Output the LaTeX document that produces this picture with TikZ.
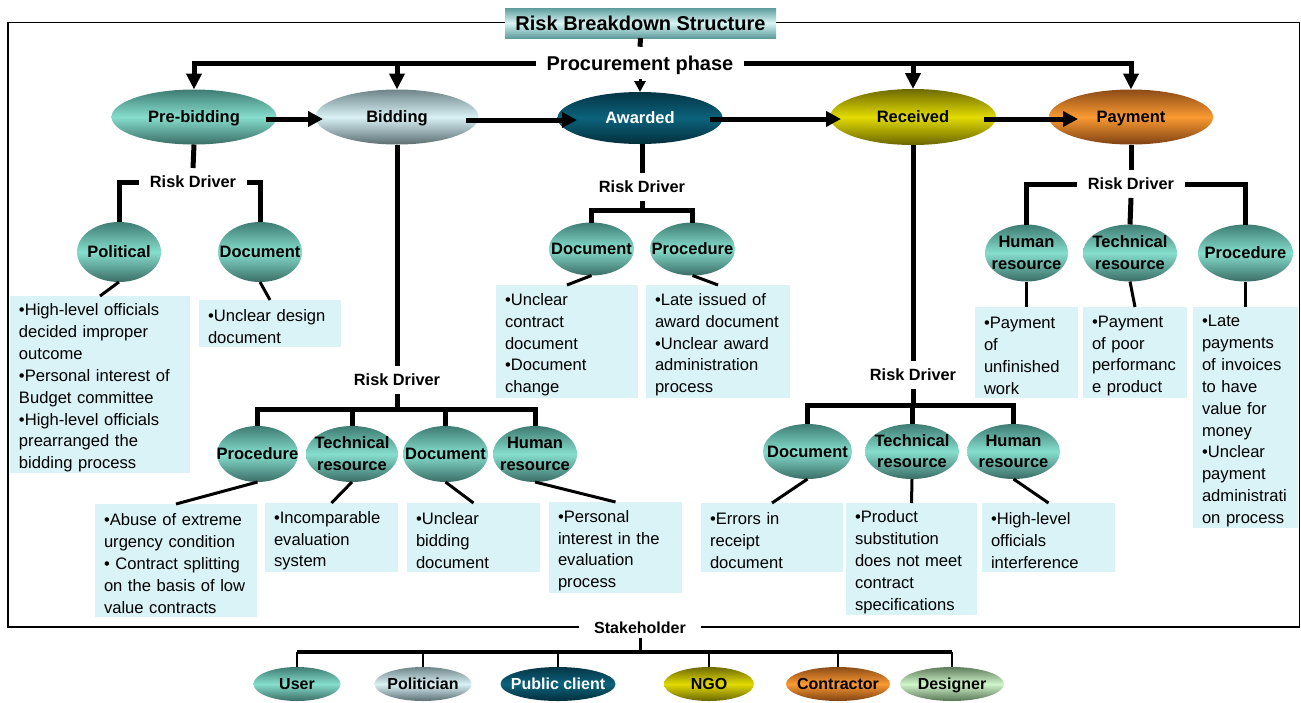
\documentclass[tikz,border=0pt]{standalone}
\usepackage{fontspec}
\setmainfont{Liberation Sans}
\usetikzlibrary{arrows.meta,shapes.geometric}
\definecolor{tealD}{HTML}{3E7C73}
\definecolor{tealL}{HTML}{86DECD}
\definecolor{tealB}{HTML}{3A6D66}
\definecolor{bidD}{HTML}{6E8488}
\definecolor{bidL}{HTML}{D9F1F5}
\definecolor{bidB}{HTML}{5B6E72}
\definecolor{awdD}{HTML}{053545}
\definecolor{awdL}{HTML}{0B627C}
\definecolor{awdB}{HTML}{042F3C}
\definecolor{recD}{HTML}{6E6A00}
\definecolor{recL}{HTML}{E2DB00}
\definecolor{recB}{HTML}{6A6500}
\definecolor{payD}{HTML}{8C4B17}
\definecolor{payL}{HTML}{FA9A32}
\definecolor{payB}{HTML}{7E4113}
\definecolor{desD}{HTML}{5F7D5B}
\definecolor{desL}{HTML}{CFF5CA}
\definecolor{desB}{HTML}{587555}
\definecolor{titD}{HTML}{5E9C9C}
\definecolor{titL}{HTML}{D8F5F5}
\definecolor{noteC}{HTML}{DAF3F7}
\newcommand\lbl[1]{\makebox[0pt]{\raisebox{-5.7pt}[0pt][0pt]{\begin{tabular}{@{}c@{}}#1\end{tabular}}}}
\newcommand\nohyph{\hyphenpenalty=10000\relax\exhyphenpenalty=10000\relax\rule{0pt}{18.5pt}}
\begin{document}
\begin{tikzpicture}[x=1pt,y=-1pt,
  every node/.style={inner sep=0pt,outer sep=0pt},
  frm/.style={line width=1.6pt},
  ttl/.style={rectangle,minimum width=271pt,minimum height=30pt,top color=titD,bottom color=titD,middle color=titL,font=\bfseries\fontsize{20}{24}\selectfont},
  phs/.style={font=\bfseries\fontsize{20}{24}\selectfont,inner xsep=11pt,inner ysep=9pt,text depth=0pt},
  oval/.style={ellipse,inner sep=0pt,font=\bfseries\fontsize{16.5}{21.5}\selectfont},
  soval/.style={ellipse,inner sep=0pt,font=\bfseries\fontsize{16}{20}\selectfont},
  sz/.style 2 args={minimum width=#1pt,minimum height=#2pt},
  cteal/.style={top color=tealD,bottom color=tealB,middle color=tealL},
  cbid/.style={top color=bidD,bottom color=bidB,middle color=bidL},
  cawd/.style={top color=awdD,bottom color=awdB,middle color=awdL,text=white},
  crec/.style={top color=recD,bottom color=recB,middle color=recL},
  cpay/.style={top color=payD,bottom color=payB,middle color=payL},
  cdes/.style={top color=desD,bottom color=desB,middle color=desL},
  rdr/.style={font=\bfseries\fontsize{16.3}{20}\selectfont,inner xsep=11pt,inner ysep=8pt},
  shl/.style={font=\bfseries\fontsize{16}{20}\selectfont,fill=white,inner xsep=15pt,inner ysep=4pt},
  note/.style={rectangle,fill=noteC,anchor=north west,align=left,inner xsep=9pt,inner ysep=1pt,
    font=\fontsize{16.6}{21.9}\selectfont},
  nsz/.style 2 args={minimum width=#1pt,minimum height=#2pt},
  trunk/.style={line width=5pt},
  arr/.style={line width=5pt,-{Triangle[width=15pt,length=15pt]}},
  arrd/.style={line width=5pt,-{Triangle[width=15pt,length=16pt]}},
  twig/.style={line width=3pt},
  sbar/.style={line width=3.5pt},
  sdrop/.style={line width=1.5pt}
]
\useasboundingbox (0,0) rectangle (1301,702);
\draw[frm] (8,22.5) rectangle (1299.5,627);

% title and phase
\node[ttl] (title) at (640.5,23) {Risk Breakdown Structure};
\node[phs] (proc) at (640,63) {Procurement phase};

% phases
\node[oval,sz={165}{55},cteal] (pb) at (194,117) {\lbl{Pre-bidding}};
\node[oval,sz={163}{55},cbid] (bd) at (397,117) {\lbl{Bidding}};
\node[oval,sz={165}{52},cawd] (aw) at (640,118) {\lbl{Awarded}};
\node[oval,sz={166}{56},crec] (rc) at (913,117) {\lbl{Received}};
\node[oval,sz={164}{55},cpay] (pay) at (1131,117) {\lbl{Payment}};

% risk driver labels
\node[rdr] (rd1) at (193,182) {Risk Driver};
\node[rdr] (rd2) at (397,380) {Risk Driver};
\node[rdr] (rd3) at (642,187) {Risk Driver};
\node[rdr] (rd4) at (913,375) {Risk Driver};
\node[rdr] (rd5) at (1131,184) {Risk Driver};
\coordinate (b2) at (397,409);
\coordinate (b3) at (642,210);
\coordinate (b4) at (913,405);

% pre-bidding children
\node[oval,sz={84}{60},cteal] (pol) at (119,252) {\lbl{Political}};
\node[oval,sz={84}{60},cteal] (pdoc) at (260,252) {\lbl{Document}};
% bidding children
\node[oval,sz={81}{56},cteal] (bproc) at (257.5,454) {\lbl{Procedure}};
\node[oval,sz={92}{56},cteal] (btech) at (352,454) {\lbl{Technical\\resource}};
\node[oval,sz={85}{56},cteal] (bdoc) at (445.5,454) {\lbl{Document}};
\node[oval,sz={84}{56},cteal] (bhum) at (535,454) {\lbl{Human\\resource}};
% awarded children
\node[oval,sz={85}{53},cteal] (adoc) at (591.5,249) {\lbl{Document}};
\node[oval,sz={85}{53},cteal] (aproc) at (692.5,249) {\lbl{Procedure}};
% received children
\node[oval,sz={89}{55},cteal] (rdoc) at (807.5,451.5) {\lbl{Document}};
\node[oval,sz={94}{55},cteal] (rtech) at (912,451.5) {\lbl{Technical\\resource}};
\node[oval,sz={93}{55},cteal] (rhum) at (1013.5,451.5) {\lbl{Human\\resource}};
% payment children
\node[oval,sz={83}{57},cteal] (ph) at (1026.5,253) {\lbl{Human\\resource}};
\node[oval,sz={94}{57},cteal] (pt) at (1130,253) {\lbl{Technical\\resource}};
\node[oval,sz={95}{57},cteal] (pp) at (1245.5,253) {\lbl{Procedure}};

% notes
\node[note,nsz={180}{177},text width=162pt] (n1) at (10,296) {\nohyph •High-level officials\\decided improper\\outcome\\•Personal interest of\\Budget committee\\•High-level officials\\prearranged the\\bidding process};
\node[note,nsz={142}{47},text width=124pt] (n2) at (199,300) {\nohyph •Unclear design\\document};
\node[note,nsz={142}{113},text width=124pt] (n3) at (496,285) {\nohyph •Unclear\\contract\\document\\•Document\\change};
\node[note,nsz={144}{113},text width=126pt] (n4) at (646,285) {\nohyph •Late issued of\\award document\\•Unclear award\\administration\\process};
\node[note,nsz={162}{113},text width=144pt] (n5) at (95,504) {\nohyph •Abuse of extreme\\urgency condition\\• Contract splitting\\on the basis of low\\value contracts};
\node[note,nsz={133}{69},text width=115pt] (n6) at (265,503) {\nohyph •Incomparable\\evaluation\\system};
\node[note,nsz={133}{69},text width=115pt] (n7) at (407,503) {\nohyph •Unclear\\bidding\\document};
\node[note,nsz={133}{91},text width=115pt] (n8) at (549,502) {\nohyph •Personal\\interest in the\\evaluation\\process};
\node[note,nsz={142}{69},text width=124pt] (n9) at (701,503) {\nohyph •Errors in\\receipt\\document};
\node[note,nsz={131}{111},text width=113pt] (n10) at (846,503) {\nohyph •Product\\substitution\\does not meet\\contract\\specifications};
\node[note,nsz={133}{69},text width=115pt] (n11) at (982,503) {\nohyph •High-level\\officials\\interference};
\node[note,nsz={103}{91},text width=85pt] (n12) at (975,307) {\nohyph •Payment\\of\\unfinished\\work};
\node[note,nsz={104}{91},text width=86pt] (n13) at (1083,307) {\nohyph •Payment\\of poor\\performanc\\e product};
\node[note,nsz={105}{221},text width=87pt] (n14) at (1193,307) {\nohyph •Late\\payments\\of invoices\\to have\\value for\\money\\•Unclear\\payment\\administrati\\on process};

% stakeholders
\node[shl] (sh) at (640,628) {Stakeholder};
\coordinate (b6) at (640,652);
\node[soval,sz={87}{34},cteal] (su) at (297,684) {\lbl{User}};
\node[soval,sz={97}{34},cbid] (spol) at (423,684) {\lbl{Politician}};
\node[soval,sz={115}{34},cawd] (spc) at (558,684) {\lbl{Public client}};
\node[soval,sz={90}{34},crec] (sngo) at (709,684) {\lbl{NGO}};
\node[soval,sz={104}{34},cpay] (scon) at (838,684) {\lbl{Contractor}};
\node[soval,sz={104}{34},cdes] (sdes) at (952,684) {\lbl{Designer}};

% top connectors
\draw[trunk] (title.south) -- (proc.north);
\draw[arrd] (proc.west) -| (pb.north);
\draw[arrd] (proc.west) -| (bd.north);
\draw[arrd] (proc.east) -| (rc.north);
\draw[arrd] (proc.east) -| (pay.north);
\draw[line width=3pt,-{Triangle[width=11pt,length=11pt]}] (proc.south) -- (aw.north);

\draw[arr] ([xshift=-10.5pt,yshift=-2pt]pb.east) -- ([xshift=7.5pt,yshift=-2pt]bd.west);
\draw[arr] ([xshift=-12.5pt,yshift=-3pt]bd.east) -- ([xshift=19.5pt,yshift=-2pt]aw.west);
\draw[arr] ([xshift=-12.5pt,yshift=-1pt]aw.east) -- ([xshift=11pt,yshift=-2pt]rc.west);
\draw[arr] ([xshift=-12pt,yshift=-2pt]rc.east) -- ([xshift=29pt,yshift=-2pt]pay.west);

% pre-bidding branch
\draw[trunk] (pb.south) -- (rd1.north);
\draw[trunk] (rd1.west) -| (pol.north);
\draw[trunk] (rd1.east) -| (pdoc.north);
\draw[twig] (pol.south) -- (n1.north);
\draw[twig] (pdoc.south) -- (n2.north);

% bidding branch
\draw[trunk] (bd.south) -- (rd2.north);
\draw[trunk] (rd2.south) -- (b2);
\draw[trunk] (bproc.north) |- (b2) -| (bhum.north);
\draw[trunk] (btech.north) -- (btech.north |- b2);
\draw[trunk] (bdoc.north) -- (bdoc.north |- b2);
\draw[twig] (bproc.south) -- (n5.north);
\draw[twig] (btech.south) -- (n6.north);
\draw[twig] (bdoc.south) -- (n7.north);
\draw[twig] (bhum.south) -- (n8.north);

% awarded branch
\draw[trunk] (aw.south -| rd3.north) -- (rd3.north);
\draw[trunk] (rd3.south) -- (b3);
\draw[trunk] (adoc.north) |- (b3) -| (aproc.north);
\draw[twig] (adoc.south) -- (n3.north);
\draw[twig] (aproc.south) -- (n4.north);

% received branch
\draw[trunk] (rc.south) -- (rd4.north);
\draw[trunk] (rd4.south) -- (b4);
\draw[trunk] (rdoc.north) |- (b4) -| (rhum.north);
\draw[trunk] (rtech.north) -- (rtech.north |- b4);
\draw[twig] (rdoc.south) -- (n9.north);
\draw[twig] (rtech.south) -- (n10.north);
\draw[twig] (rhum.south) -- (n11.north);

% payment branch
\draw[trunk] (pay.south) -- (rd5.north);
\draw[trunk] (rd5.west) -| (ph.north);
\draw[trunk] (rd5.east) -| (pp.north);
\draw[trunk] (rd5.south) -- (pt.north);
\draw[twig] (ph.south) -- (n12.north);
\draw[twig] (pt.south) -- (n13.north);
\draw[twig] (pp.south) -- (n14.north);

% stakeholder tree
\draw[line width=3pt] (sh.south) -- (b6);
\draw[sbar] (su.north |- b6) -- (sdes.north |- b6);
\draw[sdrop] (su.north) -- (su.north |- b6);
\draw[sdrop] (spol.north) -- (spol.north |- b6);
\draw[sdrop] (spc.north) -- (spc.north |- b6);
\draw[sdrop] (sngo.north) -- (sngo.north |- b6);
\draw[sdrop] (scon.north) -- (scon.north |- b6);
\draw[sdrop] (sdes.north) -- (sdes.north |- b6);
\end{tikzpicture}
\end{document}
